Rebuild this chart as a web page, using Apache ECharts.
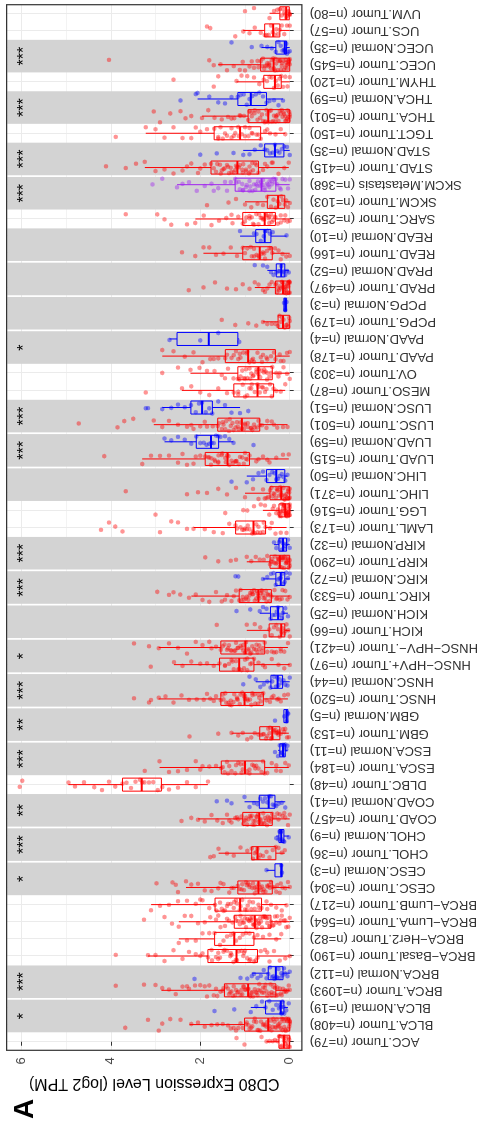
<!DOCTYPE html>
<html><head><meta charset="utf-8">
<script src="https://cdn.jsdelivr.net/npm/echarts@6/dist/echarts.min.js"></script>
<style>
html,body{margin:0;padding:0;background:#fff;overflow:hidden;width:481px;height:1129px;}
#chart{position:absolute;left:0;top:0;width:1129px;height:481px;transform-origin:0 0;transform:translate(0px,1129px) rotate(-90deg);}
</style></head><body><div id="chart"></div>
<script>
const categories = [
 "ACC.Tumor (n=79)","BLCA.Tumor (n=408)","BLCA.Normal (n=19)","BRCA.Tumor (n=1093)","BRCA.Normal (n=112)",
 "BRCA\u2212Basal.Tumor (n=190)","BRCA\u2212Her2.Tumor (n=82)","BRCA\u2212LumA.Tumor (n=564)","BRCA\u2212LumB.Tumor (n=217)",
 "CESC.Tumor (n=304)","CESC.Normal (n=3)","CHOL.Tumor (n=36)","CHOL.Normal (n=9)","COAD.Tumor (n=457)","COAD.Normal (n=41)",
 "DLBC.Tumor (n=48)","ESCA.Tumor (n=184)","ESCA.Normal (n=11)","GBM.Tumor (n=153)","GBM.Normal (n=5)",
 "HNSC.Tumor (n=520)","HNSC.Normal (n=44)","HNSC\u2212HPV+.Tumor (n=97)","HNSC\u2212HPV\u2212.Tumor (n=421)",
 "KICH.Tumor (n=66)","KICH.Normal (n=25)","KIRC.Tumor (n=533)","KIRC.Normal (n=72)","KIRP.Tumor (n=290)","KIRP.Normal (n=32)",
 "LAML.Tumor (n=173)","LGG.Tumor (n=516)","LIHC.Tumor (n=371)","LIHC.Normal (n=50)","LUAD.Tumor (n=515)","LUAD.Normal (n=59)",
 "LUSC.Tumor (n=501)","LUSC.Normal (n=51)","MESO.Tumor (n=87)","OV.Tumor (n=303)","PAAD.Tumor (n=178)","PAAD.Normal (n=4)",
 "PCPG.Tumor (n=179)","PCPG.Normal (n=3)","PRAD.Tumor (n=497)","PRAD.Normal (n=52)","READ.Tumor (n=166)","READ.Normal (n=10)",
 "SARC.Tumor (n=259)","SKCM.Tumor (n=103)","SKCM.Metastasis (n=368)","STAD.Tumor (n=415)","STAD.Normal (n=35)","TGCT.Tumor (n=150)",
 "THCA.Tumor (n=501)","THCA.Normal (n=59)","THYM.Tumor (n=120)","UCEC.Tumor (n=545)","UCEC.Normal (n=35)","UCS.Tumor (n=57)","UVM.Tumor (n=80)"
];
// [whisker low, Q1, median, Q3, whisker high]
const boxStats = [
 [0,0,0.13,0.24,0.52],[0,0,0.48,1.01,2.24],[0.04,0.13,0.2,0.54,0.87],[0,0.31,0.93,1.46,2.87],[0,0.15,0.31,0.48,0.85],
 [0,0.72,1.19,1.83,3.17],[0.19,0.80,1.24,1.68,2.48],[0,0.42,0.78,1.24,2.48],[0.07,0.63,1.11,1.67,3.10],
 [0,0.39,0.70,1.16,2.32],[0.17,0.17,0.19,0.33,0.52],[0.11,0.31,0.72,0.85,1.59],[0.02,0.13,0.19,0.24,0.3],[0,0.39,0.68,1.05,2.05],[0.1,0.33,0.47,0.68,1.01],
 [1.83,2.87,3.31,3.74,4.95],[0.02,0.56,1.0,1.53,2.91],[0.05,0.10,0.15,0.22,0.26],[0.02,0.22,0.39,0.67,1.3],[0.03,0.04,0.07,0.13,0.13],
 [0.04,0.59,1.01,1.54,2.93],[0,0.16,0.27,0.42,0.76],[0,0.80,1.13,1.57,2.59],[0.04,0.56,0.99,1.54,2.93],
 [0,0.11,0.19,0.46,0.96],[0.04,0.15,0.26,0.43,0.67],[0,0.41,0.70,1.13,2.2],[0,0.11,0.2,0.31,0.6],[0,0,0.22,0.44,0.96],[0,0.07,0.15,0.24,0.35],
 [0.07,0.54,0.81,1.21,2.15],[0,0,0.1,0.24,0.6],[0,0,0.19,0.44,1.0],[0.05,0.11,0.3,0.52,0.96],[0.02,0.9,1.39,1.89,3.3],[1.26,1.59,1.76,2.09,2.8],
 [0.05,0.67,1.07,1.61,3.04],[1.11,1.73,1.96,2.21,2.85],[0.1,0.36,0.72,1.25,2.41],[0,0.39,0.70,1.16,2.22],[0,0.32,0.93,1.44,2.85],[1.13,1.16,1.81,2.52,2.69],
 [0,0,0.15,0.26,0.6],[0.07,0.07,0.1,0.13,0.13],[0,0,0.15,0.32,0.78],[0.02,0.11,0.19,0.30,0.5],[0,0.39,0.67,1.05,1.93],[0.07,0.42,0.56,0.76,1.11],
 [0,0.32,0.56,1.05,2.11],[0,0.11,0.26,0.50,1.0],[0,0.31,0.63,1.22,2.52],[0.02,0.70,1.17,1.76,3.24],[0,0.13,0.33,0.56,1.04],[0.1,0.65,1.11,1.69,3.22],
 [0,0,0.48,0.93,1.96],[0.15,0.52,0.87,1.16,2.06],[0,0.19,0.33,0.58,1.19],[0,0,0.36,0.65,1.6],[0,0.07,0.11,0.31,0.63],[0,0.22,0.37,0.56,1.04],[0,0.01,0.08,0.22,0.45]
];
// individual sample values (per category, same order)
const points = [
 [0,0.01,0.02,0.03,0.05,0.06,0.08,0.1,0.12,0.13,0.15,0.17,0.2,0.22,0.24,0.28,0.33,0.38,0.45,0.52,0.63,1.01,1.19],
 [0,0,0.02,0.05,0.08,0.1,0.13,0.16,0.2,0.23,0.27,0.3,0.34,0.38,0.42,0.46,0.5,0.55,0.6,0.64,0.7,0.75,0.8,0.86,0.92,0.98,1.05,1.15,1.25,1.38,1.5,1.62,1.75,1.9,2.05,2.2,2.44,2.67,2.85,2.93,3.17,3.68],
 [0.02,0.08,0.12,0.14,0.16,0.18,0.19,0.2,0.21,0.24,0.3,0.38,0.46,0.54,0.62,0.75,0.87,1.24,1.68],
 [0,0.02,0.05,0.08,0.12,0.15,0.18,0.22,0.26,0.3,0.33,0.37,0.41,0.45,0.5,0.54,0.58,0.62,0.66,0.7,0.74,0.78,0.82,0.86,0.9,0.94,0.98,1.02,1.06,1.1,1.15,1.2,1.25,1.3,1.36,1.42,1.48,1.55,1.62,1.7,1.8,1.9,2.0,2.12,2.25,2.4,2.55,2.7,2.85,3.0,3.26,3.89],
 [0,0.05,0.1,0.13,0.16,0.19,0.22,0.25,0.28,0.31,0.34,0.37,0.4,0.44,0.48,0.52,0.58,0.65,0.72,0.8,0.85,0.95,1.1,2.13],
 [0,0.1,0.22,0.35,0.45,0.55,0.65,0.72,0.8,0.88,0.95,1.02,1.08,1.14,1.2,1.26,1.33,1.4,1.48,1.56,1.65,1.75,1.83,1.95,2.1,2.25,2.4,2.6,2.8,3.0,3.17,3.89],
 [0.19,0.3,0.45,0.6,0.72,0.8,0.9,0.98,1.05,1.12,1.2,1.26,1.32,1.4,1.48,1.56,1.68,1.8,1.95,2.1,2.3,2.48],
 [0,0.03,0.08,0.13,0.18,0.23,0.28,0.33,0.38,0.42,0.46,0.5,0.54,0.58,0.62,0.66,0.7,0.74,0.78,0.82,0.86,0.9,0.95,1.0,1.05,1.1,1.16,1.22,1.28,1.36,1.45,1.55,1.65,1.78,1.9,2.05,2.2,2.35,2.48,2.63,2.8,3.26],
 [0.07,0.18,0.3,0.42,0.52,0.63,0.7,0.78,0.86,0.94,1.0,1.06,1.12,1.18,1.25,1.32,1.4,1.48,1.56,1.67,1.8,1.95,2.1,2.3,2.5,2.7,2.9,3.1],
 [0,0.04,0.1,0.16,0.22,0.28,0.34,0.39,0.44,0.49,0.54,0.59,0.64,0.69,0.74,0.79,0.84,0.9,0.96,1.02,1.08,1.16,1.25,1.35,1.48,1.6,1.75,1.9,2.05,2.2,2.32,2.5,2.55,2.62,2.98],
 [0.17,0.19,0.52],
 [0.11,0.18,0.25,0.31,0.38,0.45,0.52,0.6,0.66,0.7,0.72,0.74,0.78,0.82,0.85,0.95,1.1,1.25,1.4,1.59,1.7,1.78],
 [0.02,0.12,0.14,0.17,0.19,0.2,0.23,0.25,0.3],
 [0,0.04,0.1,0.16,0.22,0.28,0.33,0.39,0.43,0.47,0.51,0.55,0.59,0.63,0.67,0.71,0.75,0.79,0.83,0.87,0.92,0.97,1.02,1.08,1.15,1.22,1.3,1.4,1.5,1.62,1.75,1.9,2.05,2.2,2.42],
 [0.1,0.18,0.25,0.3,0.34,0.38,0.42,0.46,0.5,0.55,0.6,0.66,0.72,0.8,0.9,1.01,1.3,1.4,1.63],
 [1.83,2.1,2.3,2.5,2.7,2.85,2.95,3.05,3.15,3.25,3.3,3.35,3.45,3.55,3.65,3.74,3.9,4.04,4.2,4.37,4.6,4.8,4.95,5.98,6.04],
 [0.02,0.1,0.2,0.3,0.4,0.5,0.56,0.63,0.7,0.77,0.84,0.9,0.96,1.02,1.08,1.15,1.22,1.3,1.38,1.46,1.53,1.65,1.8,1.95,2.1,2.3,2.5,2.7,2.91,3.24],
 [0.05,0.08,0.1,0.12,0.14,0.15,0.17,0.2,0.22,0.26,0.33],
 [0.02,0.06,0.1,0.15,0.2,0.24,0.28,0.32,0.36,0.4,0.44,0.48,0.53,0.58,0.64,0.7,0.78,0.86,0.95,1.05,1.15,1.3,1.6,2.24],
 [0.03,0.05,0.07,0.12,0.33],
 [0.04,0.12,0.2,0.28,0.36,0.44,0.52,0.59,0.65,0.71,0.77,0.83,0.89,0.95,1.0,1.06,1.12,1.18,1.24,1.3,1.37,1.44,1.54,1.65,1.78,1.92,2.08,2.25,2.42,2.6,2.78,2.93,3.1,3.15,3.48],
 [0,0.05,0.1,0.14,0.18,0.22,0.25,0.28,0.31,0.35,0.39,0.43,0.5,0.58,0.66,0.76,0.9,1.04],
 [0,0.12,0.25,0.4,0.55,0.7,0.8,0.88,0.95,1.02,1.08,1.13,1.2,1.28,1.36,1.45,1.57,1.7,1.85,2.0,2.2,2.4,2.59,3.11],
 [0.04,0.12,0.2,0.3,0.4,0.5,0.56,0.62,0.68,0.74,0.8,0.86,0.92,0.98,1.04,1.1,1.16,1.22,1.3,1.38,1.46,1.54,1.65,1.8,1.95,2.1,2.3,2.5,2.7,2.93,3.15,3.48],
 [0,0.03,0.07,0.1,0.13,0.16,0.19,0.22,0.26,0.3,0.35,0.4,0.46,0.55,0.66,0.78,0.96,1.63],
 [0.04,0.1,0.15,0.18,0.22,0.26,0.29,0.33,0.38,0.43,0.52,0.6,0.67,0.88,1.19],
 [0,0.05,0.1,0.16,0.22,0.28,0.34,0.41,0.45,0.5,0.55,0.6,0.65,0.7,0.75,0.8,0.85,0.9,0.96,1.02,1.08,1.13,1.2,1.3,1.4,1.52,1.65,1.8,1.95,2.1,2.25,2.45,2.6,2.7,2.96],
 [0,0.04,0.08,0.11,0.14,0.17,0.2,0.23,0.26,0.31,0.36,0.42,0.5,0.6,1.15,1.21],
 [0,0.01,0.03,0.06,0.09,0.12,0.15,0.18,0.22,0.26,0.3,0.34,0.39,0.44,0.5,0.58,0.67,0.76,0.86,0.96,1.2,1.32,1.6,1.89],
 [0,0.04,0.07,0.1,0.13,0.15,0.18,0.21,0.24,0.3,0.35],
 [0.07,0.2,0.32,0.44,0.54,0.6,0.66,0.72,0.78,0.84,0.9,0.96,1.03,1.1,1.21,1.35,1.5,1.7,1.9,2.15,2.3,2.5,2.65,2.9,3.74,3.9,4.04,4.22],
 [0,0,0.01,0.02,0.04,0.06,0.08,0.1,0.12,0.14,0.17,0.2,0.24,0.3,0.38,0.46,0.55,0.65,0.8,0.95,1.04,1.44,3.0],
 [0,0.01,0.03,0.06,0.1,0.14,0.19,0.24,0.29,0.34,0.39,0.44,0.52,0.6,0.7,0.82,1.0,1.2,1.4,1.6,1.85,2.05,2.3,3.67],
 [0.05,0.1,0.14,0.18,0.22,0.26,0.3,0.34,0.39,0.45,0.52,0.6,0.7,0.82,0.96,1.3],
 [0.02,0.15,0.3,0.45,0.6,0.75,0.9,0.98,1.06,1.14,1.22,1.3,1.37,1.44,1.52,1.6,1.68,1.76,1.89,2.0,2.15,2.3,2.5,2.7,2.9,3.1,3.3,4.15],
 [0.81,1.26,1.35,1.45,1.55,1.6,1.65,1.7,1.75,1.8,1.86,1.92,2.0,2.09,2.2,2.35,2.5,2.65,2.8],
 [0.05,0.15,0.28,0.4,0.52,0.62,0.67,0.73,0.8,0.87,0.94,1.0,1.07,1.14,1.21,1.28,1.36,1.44,1.52,1.61,1.72,1.85,2.0,2.15,2.3,2.5,2.7,2.85,3.04,3.5,3.7,3.85,4.72],
 [0.93,1.11,1.3,1.45,1.6,1.73,1.8,1.88,1.96,2.03,2.1,2.21,2.35,2.5,2.65,2.85,3.17,3.22],
 [0.1,0.2,0.3,0.36,0.44,0.52,0.6,0.67,0.72,0.78,0.86,0.95,1.05,1.15,1.25,1.4,1.6,1.8,2.0,2.2,2.41,3.22],
 [0,0.06,0.14,0.22,0.3,0.39,0.45,0.51,0.57,0.63,0.69,0.75,0.81,0.88,0.95,1.03,1.1,1.16,1.26,1.38,1.52,1.68,1.85,2.02,2.22,2.5,2.85],
 [0,0.06,0.14,0.22,0.32,0.42,0.52,0.62,0.72,0.82,0.9,0.96,1.04,1.12,1.2,1.3,1.44,1.6,1.78,1.95,2.15,2.35,2.6,2.85],
 [1.13,1.6,2.0,2.69],
 [0,0.01,0.03,0.05,0.08,0.11,0.14,0.17,0.2,0.23,0.26,0.32,0.4,0.5,0.6,0.75,0.93,1.22,1.52],
 [0.07,0.1,0.13],
 [0,0.01,0.02,0.04,0.06,0.09,0.12,0.15,0.18,0.22,0.26,0.32,0.4,0.5,0.6,0.7,0.78,0.9,1.05,1.2,1.4,1.67,1.93,2.26],
 [0.02,0.06,0.1,0.13,0.16,0.19,0.22,0.25,0.3,0.36,0.42,0.5,0.6,0.78],
 [0,0.08,0.16,0.25,0.33,0.39,0.45,0.51,0.57,0.63,0.68,0.74,0.8,0.87,0.95,1.05,1.18,1.32,1.48,1.65,1.8,1.93,2.11,2.41],
 [0.07,0.38,0.44,0.5,0.55,0.58,0.65,0.74,0.8,1.11],
 [0,0.05,0.12,0.2,0.27,0.32,0.37,0.42,0.47,0.52,0.57,0.62,0.68,0.75,0.82,0.9,0.97,1.05,1.15,1.28,1.42,1.58,1.75,1.92,2.11,2.3,2.65,2.8,2.96,3.67],
 [0,0.04,0.08,0.11,0.15,0.19,0.23,0.27,0.31,0.36,0.42,0.5,0.6,0.72,0.86,1.0,1.2,1.37,1.85],
 [0,0.04,0.1,0.16,0.22,0.28,0.31,0.36,0.41,0.46,0.51,0.56,0.61,0.66,0.71,0.77,0.83,0.9,0.98,1.06,1.14,1.22,1.32,1.45,1.6,1.75,1.9,2.08,2.25,2.4,2.52,2.85,3.07],
 [0.02,0.12,0.25,0.38,0.5,0.6,0.7,0.77,0.84,0.91,0.98,1.05,1.12,1.18,1.25,1.32,1.4,1.48,1.56,1.65,1.76,1.9,2.05,2.2,2.4,2.6,2.8,3.0,3.24,3.44,3.67,4.11],
 [0,0.06,0.13,0.18,0.23,0.28,0.33,0.38,0.44,0.5,0.56,0.65,0.78,0.9,1.04,1.26,1.63,2.0],
 [0.1,0.2,0.32,0.44,0.55,0.65,0.74,0.83,0.92,1.0,1.07,1.14,1.22,1.3,1.4,1.5,1.6,1.69,1.85,2.0,2.2,2.4,2.6,2.8,3.0,3.22,3.89],
 [0,0.01,0.03,0.06,0.1,0.14,0.18,0.22,0.27,0.32,0.37,0.42,0.48,0.54,0.6,0.66,0.72,0.79,0.86,0.93,1.02,1.12,1.24,1.38,1.52,1.68,1.82,1.96,2.2,2.33,2.44,2.67,2.9,3.04],
 [0.15,0.25,0.35,0.45,0.52,0.6,0.68,0.76,0.84,0.9,0.96,1.03,1.1,1.16,1.3,1.45,1.6,1.8,2.06,2.1,2.44],
 [0,0.05,0.1,0.15,0.19,0.23,0.27,0.31,0.35,0.4,0.45,0.51,0.58,0.68,0.8,0.95,1.08,1.19,1.6,1.7,2.6],
 [0,0.01,0.03,0.06,0.09,0.13,0.17,0.21,0.25,0.3,0.35,0.4,0.45,0.5,0.55,0.6,0.65,0.72,0.8,0.9,1.0,1.12,1.25,1.4,1.55,1.7,1.8,4.04],
 [0,0.03,0.06,0.08,0.1,0.11,0.13,0.16,0.2,0.25,0.31,0.4,0.5,0.63,0.85,1.3],
 [0,0.06,0.12,0.18,0.22,0.26,0.3,0.34,0.38,0.42,0.47,0.52,0.56,0.65,0.78,0.9,1.04,1.22,1.78,1.85],
 [0,0,0.01,0.02,0.04,0.06,0.08,0.1,0.12,0.15,0.18,0.22,0.28,0.35,0.45,0.8,1.0]
];
// further samples from the dense core of the larger groups (same category order)
const morePoints = [
 [],
 [0,0.01,0.03,0.06,0.09,0.12,0.15,0.18,0.21,0.25,0.29,0.33,0.37,0.41,0.45,0.52,0.58,0.66,0.72,0.78,0.84,0.9,0.96,1.1,1.2,1.32],
 [],
 [0.2,0.28,0.35,0.43,0.52,0.6,0.68,0.76,0.84,0.92,1.0,1.08,1.17,1.27,1.38,1.5,0.4,0.56,0.72,0.88,1.04,1.22,1.33,0.1,1.65,1.85,2.3],
 [],
 [0.76,0.9,1.04,1.18,1.32,1.46,1.6,1.74,1.0,1.3,1.6,0.5,2.0],
 [],
 [0.36,0.44,0.52,0.6,0.68,0.76,0.84,0.92,1.02,1.12,0.48,0.56,0.64,0.72,0.8,0.88,0.98,1.08,1.2,0.3,0.2,0.1,1.4,1.6],
 [0.68,0.82,0.96,1.1,1.24,1.38,1.52,1.64,0.9,1.2,1.45,0.5,2.0],
 [0.42,0.5,0.58,0.66,0.74,0.82,0.9,0.98,1.06,1.12,0.46,0.62,0.78,0.94,0.3,0.2,1.3,1.55],
 [],[],[],
 [0.41,0.49,0.57,0.65,0.73,0.81,0.89,0.99,0.45,0.53,0.61,0.69,0.77,0.85,0.95,1.04,0.25,0.12,1.18,1.35],
 [],[],
 [0.6,0.75,0.9,1.05,1.2,1.35,1.5,0.8,1.1,1.4,0.3,2.0],
 [],
 [0.25,0.3,0.35,0.42,0.5,0.6,0.27,0.45,0.12],
 [],
 [0.62,0.7,0.78,0.86,0.94,1.02,1.1,1.18,1.26,1.34,1.42,1.5,0.68,0.84,1.0,1.16,1.32,1.48,0.4,0.25,1.7,1.85],
 [],
 [0.85,1.0,1.15,1.3,1.45,0.95,1.25,0.6],
 [0.6,0.68,0.76,0.84,0.92,1.0,1.08,1.16,1.24,1.32,1.4,1.5,0.72,0.88,1.04,1.2,1.36,0.35,0.2,1.75],
 [],[],
 [0.43,0.48,0.53,0.58,0.63,0.68,0.73,0.78,0.83,0.88,0.93,0.98,1.05,1.1,0.52,0.62,0.72,0.82,0.3,0.18,1.25,1.45],
 [],
 [0,0.02,0.04,0.07,0.1,0.13,0.17,0.2,0.24,0.28,0.33,0.38,0.42,0.08,0.16,0.25],
 [],
 [0.58,0.7,0.82,0.94,1.06,1.18,0.75,1.0,0.4],
 [0,0.01,0.02,0.03,0.05,0.07,0.09,0.11,0.13,0.16,0.19,0.22,0.05,0.1,0.15,0.2,0.27,0.35],
 [0,0.02,0.04,0.07,0.11,0.16,0.21,0.26,0.31,0.36,0.41,0.05,0.12,0.2,0.28,0.48,0.56],
 [],
 [0.95,1.03,1.11,1.19,1.27,1.35,1.43,1.51,1.59,1.67,1.75,1.83,1.0,1.2,1.4,1.6,1.8,0.7,0.5,2.1,2.4],
 [],
 [0.7,0.78,0.86,0.94,1.02,1.1,1.18,1.26,1.34,1.42,1.5,1.58,0.84,1.0,1.16,1.32,1.48,0.5,0.35,1.9,2.2],
 [],
 [0.4,0.55,0.7,0.85,1.0,1.15,0.62,0.9],
 [0.42,0.5,0.58,0.66,0.74,0.82,0.9,0.98,1.06,1.13,0.54,0.7,0.86,1.0,0.25,1.45],
 [0.35,0.5,0.65,0.8,0.95,1.1,1.25,1.4,0.6,0.85,1.15,0.2,1.7],
 [],[],[],
 [0,0.01,0.03,0.05,0.07,0.1,0.13,0.16,0.2,0.24,0.28,0.08,0.14,0.3,0.45,0.55],
 [],
 [0.42,0.55,0.7,0.85,1.0,0.6,0.8,0.2],
 [],
 [0.34,0.4,0.46,0.52,0.6,0.7,0.8,0.9,1.0,0.45,0.65,0.85,0.2,0.1,1.3],
 [],
 [0.33,0.4,0.48,0.56,0.64,0.72,0.8,0.88,0.96,1.04,1.12,1.2,0.45,0.6,0.75,0.9,1.05,0.2,1.4,1.7],
 [0.74,0.82,0.9,0.98,1.06,1.14,1.22,1.3,1.38,1.46,1.54,1.62,1.7,0.88,1.04,1.2,1.36,1.52,0.55,0.4,2.0,2.3],
 [],
 [0.7,0.85,1.0,1.15,1.3,1.45,1.6,0.9,1.25,1.55,0.5,2.1],
 [0,0.02,0.05,0.08,0.12,0.16,0.2,0.25,0.3,0.35,0.4,0.45,0.5,0.56,0.62,0.7,0.78,0.85,0.9,0.1,0.3,0.52,1.1,1.3],
 [],[],
 [0,0.02,0.04,0.07,0.1,0.14,0.18,0.22,0.27,0.32,0.37,0.42,0.47,0.52,0.57,0.62,0.08,0.2,0.33,0.46,0.7,0.85,1.05],
 [],[],[]
];
// shaded Tumor/Normal comparison groups (first category of each pair) and significance marks
const shadedStart = [
 "BLCA.Tumor (n=408)","BRCA.Tumor (n=1093)","CESC.Tumor (n=304)","CHOL.Tumor (n=36)","COAD.Tumor (n=457)","ESCA.Tumor (n=184)",
 "GBM.Tumor (n=153)","HNSC.Tumor (n=520)","HNSC\u2212HPV+.Tumor (n=97)","KICH.Tumor (n=66)","KIRC.Tumor (n=533)","KIRP.Tumor (n=290)",
 "LIHC.Tumor (n=371)","LUAD.Tumor (n=515)","LUSC.Tumor (n=501)","PAAD.Tumor (n=178)","PCPG.Tumor (n=179)","PRAD.Tumor (n=497)",
 "READ.Tumor (n=166)","SKCM.Tumor (n=103)","STAD.Tumor (n=415)","THCA.Tumor (n=501)","UCEC.Tumor (n=545)"
];
const shadedStars = ["*","***","*","***","**","***","**","***","*","","***","***","","***","***","*","","","","***","***","***","***"];
const valueTicks = [0,2,4,6];
const minorTicks = [1,3,5];
const starLevel = 6;

const colorOf = n => n.indexOf('Normal') >= 0 ? '#0000FF' : (n.indexOf('Metastasis') >= 0 ? '#A020F0' : '#FF0000');
const idx = n => categories.indexOf(n);
const bandData = shadedStart.map(n => [idx(n), idx(n) + 1, starLevel]);
const boxData = categories.map((c, i) => [i].concat(boxStats[i]));
const scatterOf = kind => {
  const out = [];
  categories.forEach((c, i) => {
    if (colorOf(c) !== kind) return;
    points[i].forEach(v => out.push([c, v]));
    (morePoints[i] || []).forEach(v => out.push([c, v]));
  });
  return out;
};

const chart = echarts.init(document.getElementById('chart'), null, {renderer: 'canvas'});
const option = {
  animation: false,
  textStyle: {fontFamily: 'Liberation Sans'},
  title: {text: 'A', left: 5, top: 6, textStyle: {fontSize: 28, fontWeight: 'bold', color: '#000', fontFamily: 'Liberation Sans'}},
  grid: {left: 78.7, right: 4.7, top: 6.7, bottom: 177, show: true, backgroundColor: 'transparent', borderColor: '#333', borderWidth: 1.2, z: 10},
  xAxis: [{
    type: 'category', data: categories, boundaryGap: true, jitter: 14,
    axisLine: {show: false},
    axisTick: {show: true, alignWithLabel: true, interval: 0, length: 4, lineStyle: {color: '#333'}},
    axisLabel: {interval: 0, rotate: 90, margin: 8, fontSize: 13, color: '#333'},
    splitLine: {show: false}
  }, {
    type: 'value', min: -0.5, max: categories.length - 0.5, position: 'top',
    axisLine: {show: false}, axisLabel: {show: false},
    axisTick: {show: false, customValues: categories.map((c, i) => i)},
    splitLine: {show: true, lineStyle: {color: '#EBEBEB', width: 1}}
  }],
  yAxis: [{
    type: 'value', min: -0.27, max: 6.33,
    axisLine: {show: false},
    axisTick: {show: true, customValues: valueTicks, length: 4, lineStyle: {color: '#333'}},
    axisLabel: {customValues: valueTicks, margin: 7, fontSize: 13, color: '#4D4D4D'},
    splitLine: {show: true, lineStyle: {color: '#EBEBEB', width: 1.1}},
    name: 'CD80 Expression Level (log2 TPM)', nameLocation: 'middle', nameGap: 22,
    nameTextStyle: {fontSize: 16, color: '#000'}
  }, {
    type: 'value', min: -0.27, max: 6.33,
    axisLine: {show: false}, axisLabel: {show: false},
    axisTick: {show: false, customValues: minorTicks},
    splitLine: {show: true, lineStyle: {color: '#EBEBEB', width: 0.6}}
  }],
  series: [{
    type: 'custom', name: 'bands', xAxisIndex: 0, yAxisIndex: 0, silent: true, z: 1,
    data: bandData, encode: {x: [0, 1], y: 2},
    renderItem: (params, api) => {
      const a = api.coord([api.value(0), 0])[0];
      const b = api.coord([api.value(1), 0])[0];
      const bw = api.size([1, 0])[0];
      const cs = params.coordSys;
      return {type: 'rect', shape: {x: a - bw * 0.45, y: cs.y + 0.6, width: b - a + bw * 0.9, height: cs.height - 1.2}, style: {fill: '#D3D3D3'}};
    }
  }, {
    type: 'custom', name: 'boxes', xAxisIndex: 0, yAxisIndex: 0, silent: true, z: 3,
    data: boxData, encode: {x: 0, y: [1, 2, 3, 4, 5]},
    renderItem: (params, api) => {
      const i = params.dataIndex;
      const color = colorOf(categories[i]);
      const xc = api.coord([api.value(0), 0])[0];
      const hw = api.size([1, 0])[0] * 0.38;
      const y = k => api.coord([api.value(0), api.value(k)])[1];
      const ymin = y(1), yq1 = y(2), ymed = y(3), yq3 = y(4), ymax = y(5);
      return {type: 'group', children: [
        {type: 'line', shape: {x1: xc, y1: ymin, x2: xc, y2: yq1}, style: {stroke: color, lineWidth: 1}},
        {type: 'line', shape: {x1: xc, y1: yq3, x2: xc, y2: ymax}, style: {stroke: color, lineWidth: 1}},
        {type: 'rect', shape: {x: xc - hw, y: yq3, width: 2 * hw, height: yq1 - yq3}, style: {fill: 'none', stroke: color, lineWidth: 1}},
        {type: 'line', shape: {x1: xc - hw, y1: ymed, x2: xc + hw, y2: ymed}, style: {stroke: color, lineWidth: 2}}
      ]};
    }
  },
  ...['#FF0000', '#0000FF', '#A020F0'].map(col => ({
    type: 'scatter', xAxisIndex: 0, yAxisIndex: 0, z: 4, silent: true,
    symbolSize: 4.5, itemStyle: {color: col, opacity: 0.42},
    data: scatterOf(col)
  })),
  {
    type: 'custom', name: 'signif', xAxisIndex: 0, yAxisIndex: 0, silent: true, z: 5,
    data: bandData, encode: {x: [0, 1], y: 2},
    renderItem: (params, api) => {
      const a = api.coord([api.value(0), api.value(2)]);
      const b = api.coord([api.value(1), api.value(2)]);
      return {type: 'text', x: (a[0] + b[0]) / 2, y: a[1] + 3,
        style: {text: shadedStars[params.dataIndex], fill: '#000', fontSize: 16, fontFamily: 'Liberation Sans', align: 'center', verticalAlign: 'middle'}};
    }
  }]
};
chart.setOption(option);
</script></body></html>
